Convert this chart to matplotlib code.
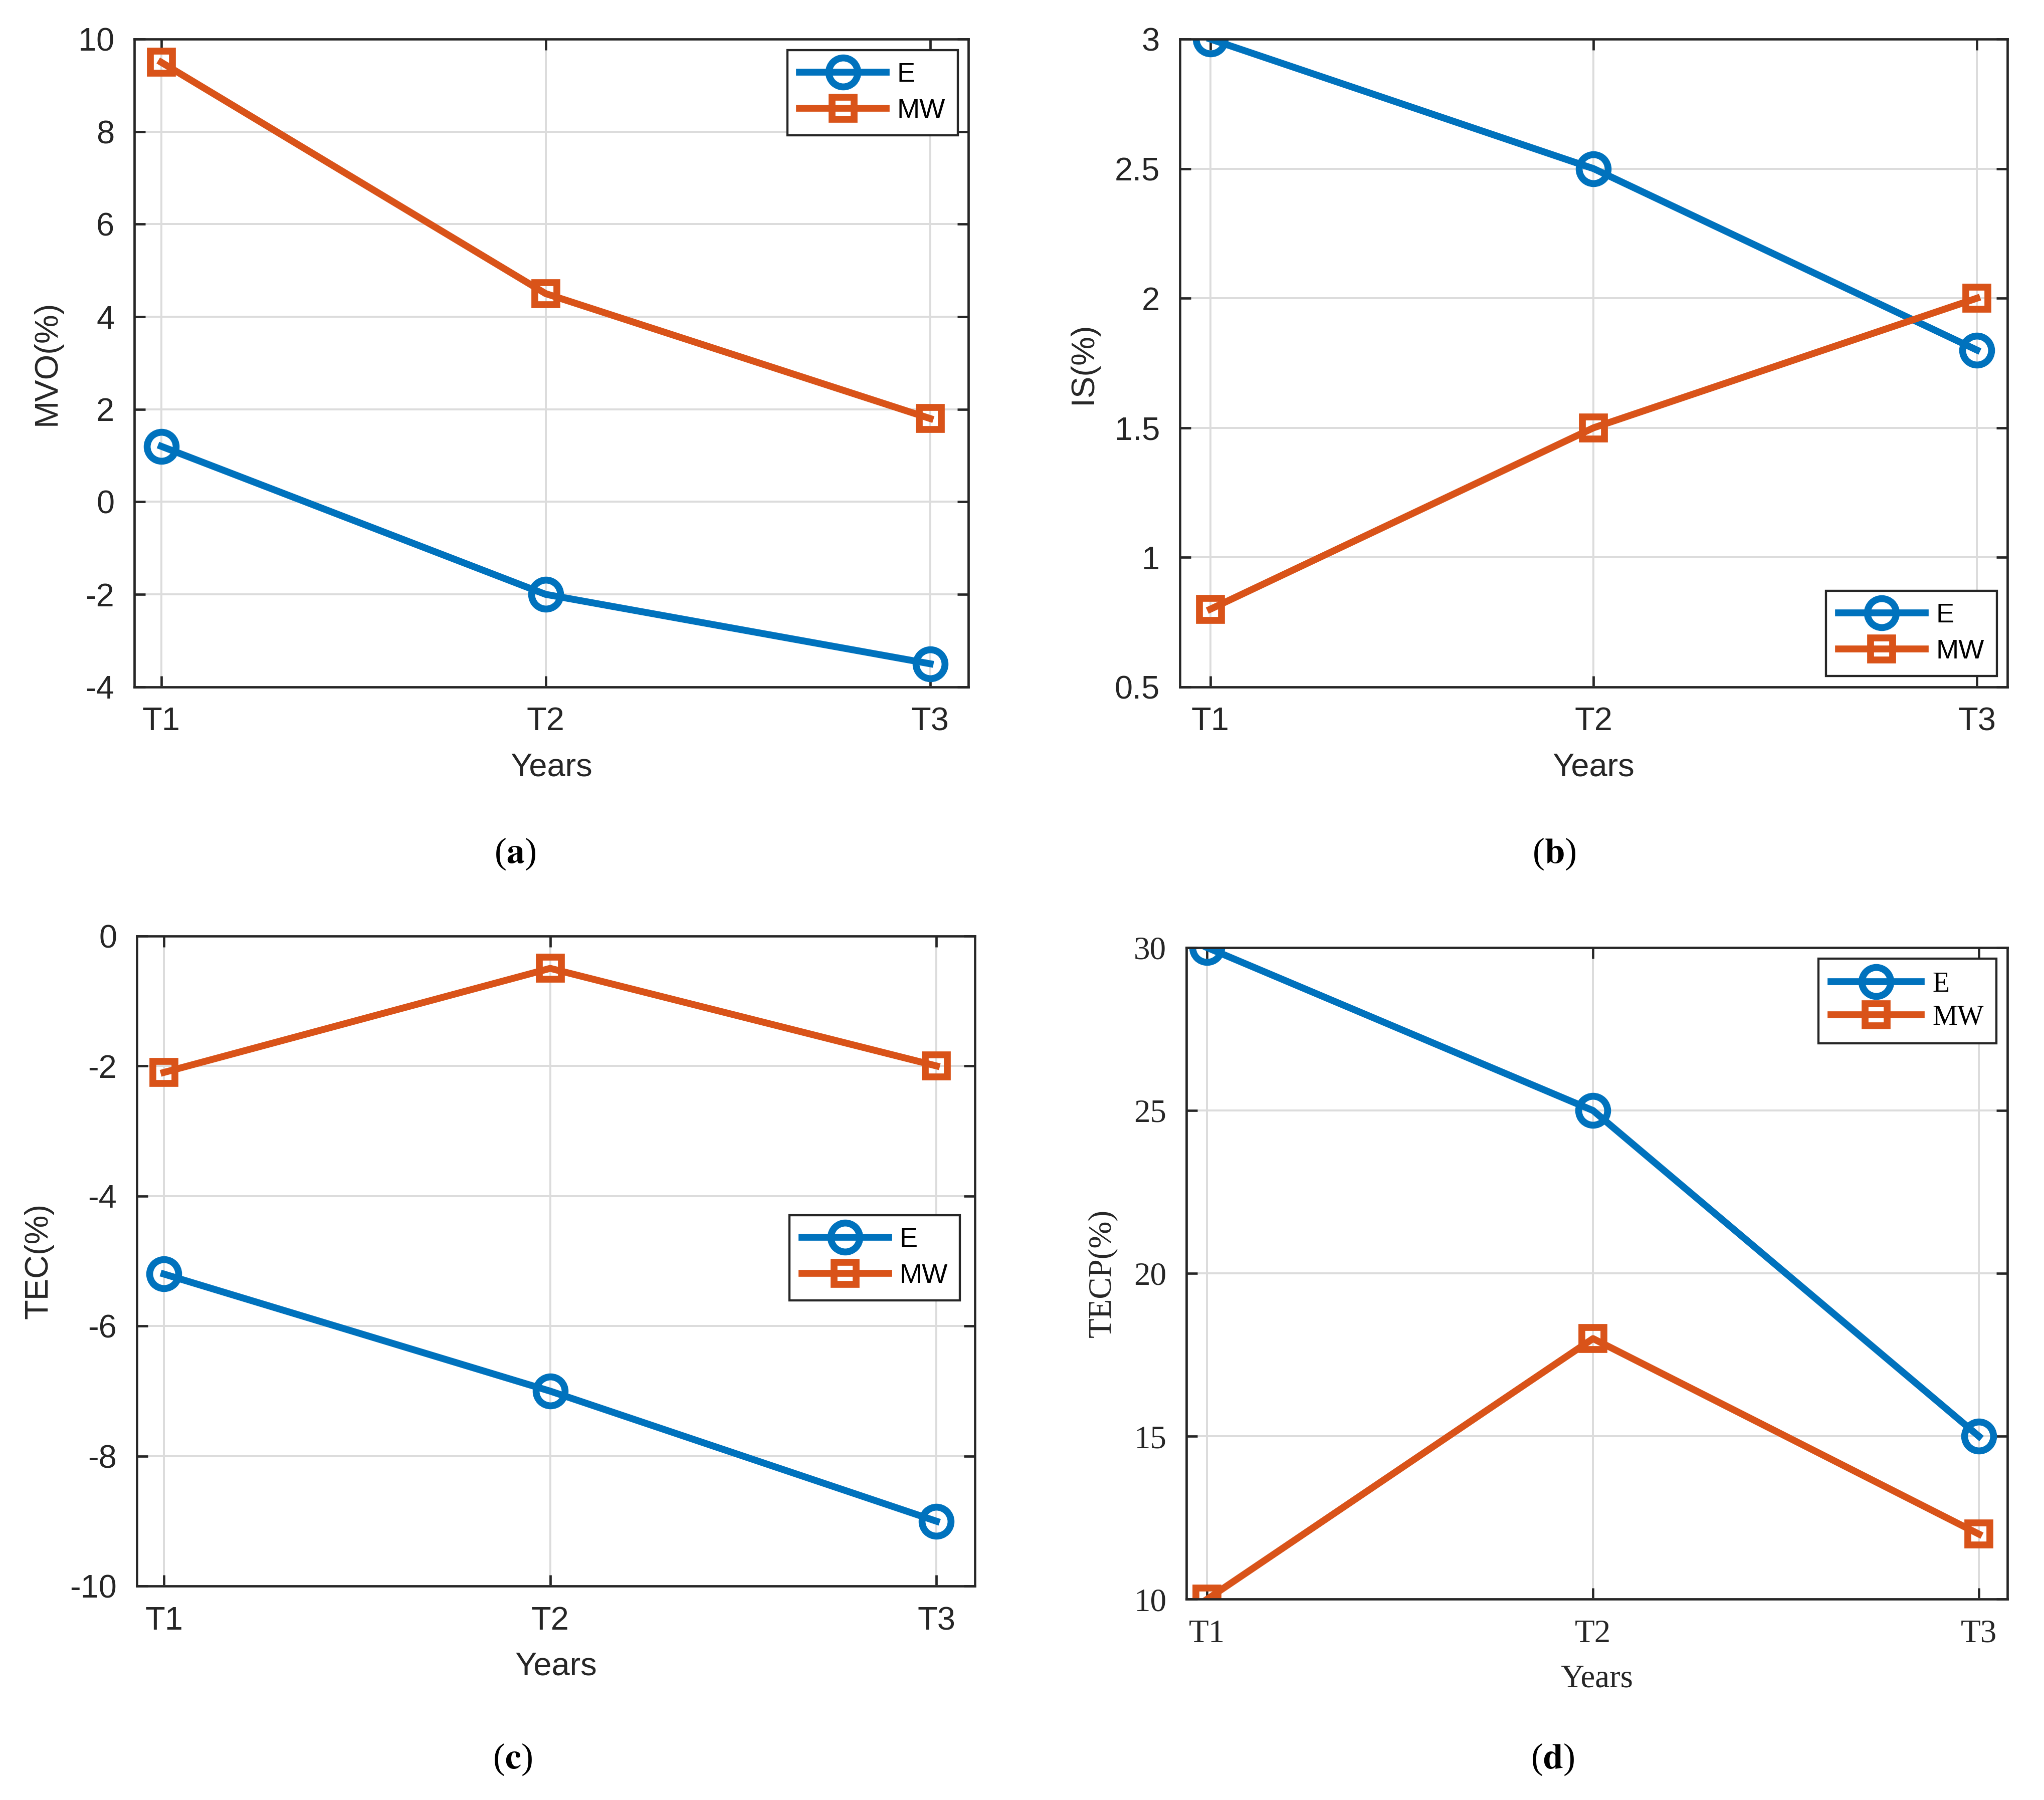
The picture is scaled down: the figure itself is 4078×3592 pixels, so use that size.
import matplotlib
matplotlib.use("Agg")
import matplotlib.pyplot as plt

# data
years = ["T1", "T2", "T3"]
mvo_e = [1.2, -2.0, -3.5]
mvo_mw = [9.5, 4.5, 1.8]
is_e = [3.0, 2.5, 1.8]
is_mw = [0.8, 1.5, 2.0]
tec_e = [-5.2, -7.0, -9.0]
tec_mw = [-2.1, -0.5, -2.0]
tecp_e = [30, 25, 15]
tecp_mw = [10, 18, 12]

plt.rcParams["mathtext.fontset"] = "stix"

BLUE = "#0072BD"
ORANGE = "#D95319"
DARK = "#262626"
W, H = 1568.0, 1381.0


def box(l, t, r, b):
    return [l / W, 1 - b / H, (r - l) / W, (b - t) / H]


def panel(fig, rect, e, mw, ylab, ylim, yticks, xlim, legloc, family, legbox=None,
          legsize=15.0, legspace=0.4):
    ax = fig.add_axes(rect)
    x = [1, 2, 3]
    ax.plot(x, e, color=BLUE, lw=3.8, marker="o", ms=16, mfc="none", mew=3.8, label="E")
    ax.plot(x, mw, color=ORANGE, lw=3.8, marker="s", ms=12, mfc="none", mew=3.8, label="MW")
    ax.set_xlim(*xlim)
    ax.set_ylim(*ylim)
    ax.set_xticks(x)
    ax.set_xticklabels(years)
    ax.set_yticks(yticks)
    ax.set_yticklabels([f"{v:g}" for v in yticks])
    ax.grid(True, color="#dcdcdc", lw=1.1)
    ax.set_axisbelow(True)
    for s in ax.spines.values():
        s.set_color(DARK)
        s.set_linewidth(1.3)
    ax.tick_params(direction="in", length=6, width=1.3, colors=DARK,
                   top=True, right=True, labelsize=18, pad=11)
    for lab in ax.get_xticklabels() + ax.get_yticklabels():
        lab.set_family(family)
    ax.set_xlabel("Years", fontsize=18, family=family, color=DARK, labelpad=8.5)
    ax.set_ylabel(ylab, fontsize=18, family=family, color=DARK, labelpad=9)
    kw = dict(frameon=True, fancybox=False, framealpha=1,
              edgecolor=DARK, handlelength=3.2, borderpad=0.45,
              labelspacing=legspace, handletextpad=0.4, borderaxespad=0.4,
              prop={"family": family, "size": legsize})
    if legbox is not None:
        leg = ax.legend(loc=legloc, bbox_to_anchor=legbox, **kw)
    else:
        leg = ax.legend(loc=legloc, **kw)
    leg.get_frame().set_linewidth(1.2)
    return ax


fig = plt.figure(figsize=(4078 / 260, 3592 / 260), dpi=260)

sans = "Liberation Sans"
serif = "Liberation Serif"

panel(fig, box(103, 30, 743, 527), mvo_e, mvo_mw, "MVO(%)", (-4, 10),
      [-4, -2, 0, 2, 4, 6, 8, 10], (0.93, 3.1), "upper right", sans)
panel(fig, box(905, 30, 1540, 527), is_e, is_mw, "IS(%)", (0.5, 3),
      [0.5, 1, 1.5, 2, 2.5, 3], (0.92, 3.08), "lower right", sans)
panel(fig, box(105, 718, 748, 1217), tec_e, tec_mw, "TEC(%)", (-10, 0),
      [-10, -8, -6, -4, -2, 0], (0.93, 3.1), "center right", sans,
      legbox=(0.995, 0.505))
panel(fig, box(910, 727, 1540, 1227), tecp_e, tecp_mw, "TECP(%)", (10, 30),
      [10, 15, 20, 25, 30], (0.946, 3.074), "upper right", serif,
      legsize=15.5, legspace=0.25)

for cx, cy, letter in [(395, 655, "a"), (1192, 655, "b"), (393, 1350, "c"), (1191, 1350, "d")]:
    fig.text(cx / W, 1 - cy / H, r"($\mathbf{" + letter + "}$)", ha="center", va="center",
             fontsize=20, family=serif)

fig.savefig("out.png", dpi=260, facecolor="white")
